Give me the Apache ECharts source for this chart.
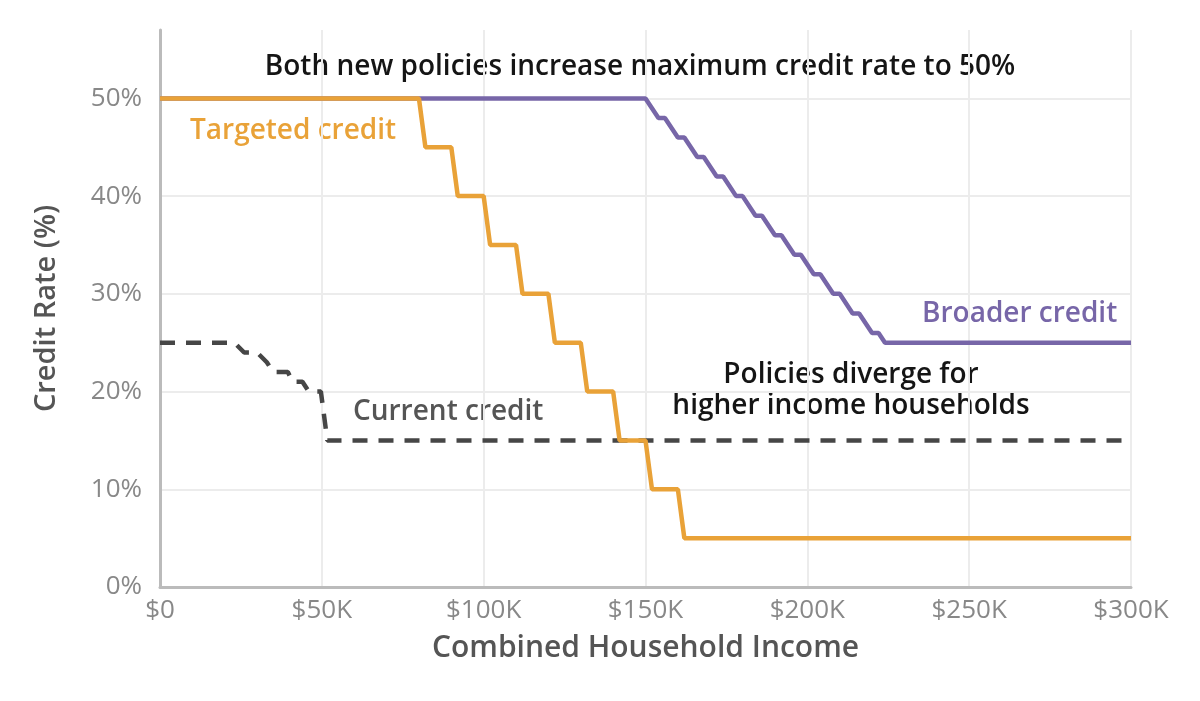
<!DOCTYPE html>
<html>
<head>
<meta charset="utf-8">
<script src="https://cdn.jsdelivr.net/npm/echarts@6/dist/echarts.min.js"></script>
<style>
  html, body { margin: 0; padding: 0; background: #fff; }
  #chart { width: 1200px; height: 701px; }
</style>
</head>
<body>
<div id="chart"></div>
<script>
// income in $K, rate in %
var currentIncome = [0, 23, 26, 30, 33, 35, 39.5, 41, 44, 46, 49.7, 51.7, 300];
var currentRate   = [25, 25, 24, 24, 23, 22, 22, 21, 21, 20, 20, 15, 15];

var targetedIncome = [0, 80, 82, 90, 92, 100, 102, 110, 112, 120, 122, 130, 132, 140, 142, 150, 152, 160, 162, 300];
var targetedRate   = [50, 50, 45, 45, 40, 40, 35, 35, 30, 30, 25, 25, 20, 20, 15, 15, 10, 10, 5, 5];

var broaderIncome = [0, 150, 154, 156, 160, 162, 166, 168, 172, 174, 178, 180, 184, 186,
                     190, 192, 196, 198, 202, 204, 208, 210, 214, 216, 220, 222, 224, 300];
var broaderRate   = [50, 50, 48, 48, 46, 46, 44, 44, 42, 42, 40, 40, 38, 38,
                     36, 36, 34, 34, 32, 32, 30, 30, 28, 28, 26, 26, 25, 25];

var xTicks = [0, 50, 100, 150, 200, 250, 300];
var yTicks = [0, 10, 20, 30, 40, 50];

function zip(xs, ys) {
    return xs.map(function (x, i) { return [x, ys[i]]; });
}

var font = '"Open Sans", "Noto Sans", sans-serif';
var myChart = echarts.init(document.getElementById('chart'));

var option = {
    animation: false,
    backgroundColor: '#fff',
    grid: { left: 160, right: 69, top: 30, bottom: 114 },
    xAxis: {
        type: 'value',
        min: xTicks[0],
        max: xTicks[xTicks.length - 1],
        interval: 50,
        name: 'Combined Household Income',
        nameLocation: 'middle',
        nameGap: 46,
        nameTextStyle: { fontFamily: font, fontSize: 30, fontWeight: 600, color: '#555' },
        axisLine: { lineStyle: { color: '#bbb', width: 3 } },
        axisTick: { show: false },
        axisLabel: {
            margin: 11,
            fontFamily: font, fontSize: 26, color: '#888',
            formatter: function (v) { return v === 0 ? '$0' : '$' + v + 'K'; }
        },
        splitLine: { show: true, lineStyle: { color: '#ececec', width: 2 } }
    },
    yAxis: {
        type: 'value',
        min: yTicks[0],
        max: 57,
        interval: 10,
        name: 'Credit Rate (%)',
        nameLocation: 'middle',
        nameGap: 99,
        nameTextStyle: { fontFamily: font, fontSize: 29, fontWeight: 600, color: '#555' },
        axisLine: { show: true, lineStyle: { color: '#bbb', width: 3 } },
        axisTick: { show: false },
        axisLabel: {
            margin: 18,
            fontFamily: font, fontSize: 26, color: '#888',
            showMaxLabel: false,
            formatter: function (v) { return v > 50 ? '' : v + '%'; }
        },
        splitLine: {
            show: true,
            lineStyle: {
                color: ['#ececec', '#ececec', '#ececec', '#ececec', '#ececec', '#ececec', 'rgba(0,0,0,0)'],
                width: 2
            }
        }
    },
    series: [
        {
            name: 'Current credit',
            type: 'line',
            data: zip(currentIncome, currentRate),
            showSymbol: false,
            lineStyle: { color: '#464646', width: 4.5, type: [15, 11] }
        },
        {
            name: 'Broader credit',
            type: 'line',
            data: zip(broaderIncome, broaderRate),
            showSymbol: false,
            lineStyle: { color: '#7766a8', width: 4.5 }
        },
        {
            name: 'Targeted credit',
            type: 'line',
            data: zip(targetedIncome, targetedRate),
            showSymbol: false,
            lineStyle: { color: '#e9a238', width: 4.5 }
        }
    ],
    graphic: [
        { type: 'text', x: 640, y: 67, style: { text: 'Both new policies increase maximum credit rate to 50%', font: '600 28px ' + font, fill: '#151515', align: 'center', verticalAlign: 'middle' } },
        { type: 'text', x: 190, y: 131, style: { text: 'Targeted credit', font: '600 28px ' + font, fill: '#e9a238', verticalAlign: 'middle' } },
        { type: 'text', x: 922, y: 314, style: { text: 'Broader credit', font: '600 28px ' + font, fill: '#7766a8', verticalAlign: 'middle' } },
        { type: 'text', x: 353, y: 412, style: { text: 'Current credit', font: '600 28px ' + font, fill: '#555', verticalAlign: 'middle' } },
        { type: 'text', x: 851, y: 375, style: { text: 'Policies diverge for', font: '600 28px ' + font, fill: '#151515', align: 'center', verticalAlign: 'middle' } },
        { type: 'text', x: 851, y: 406, style: { text: 'higher income households', font: '600 28px ' + font, fill: '#151515', align: 'center', verticalAlign: 'middle' } }
    ]
};
myChart.setOption(option);
</script>
</body>
</html>
